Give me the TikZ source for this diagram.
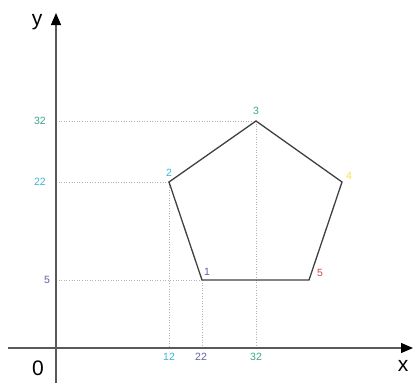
\documentclass[tikz,border=0pt]{standalone}
\usepackage{fontspec}
\setmainfont{Liberation Sans}
\usetikzlibrary{arrows.meta}
\definecolor{cgreen}{HTML}{3AA58A}
\definecolor{ccyan}{HTML}{3DB5D6}
\definecolor{cpurple}{HTML}{5F5FA0}
\definecolor{cyellow}{HTML}{F0E640}
\definecolor{cred}{HTML}{D04848}
\begin{document}
\begin{tikzpicture}[x=1pt,y=-1pt,
  axis/.style={draw=black!65,line width=1.2pt,-{Triangle[length=12pt,width=10pt,fill=black,color=black]}},
  guide/.style={draw=black!30,line width=0.6pt,dotted},
  edge/.style={draw=black!75,line width=1.3pt},
  small/.style={font=\fontsize{10.5}{12}\selectfont,inner sep=0pt},
  big/.style={font=\fontsize{21}{24}\selectfont,inner sep=0pt}]
\useasboundingbox (0,0) rectangle (414,383);
% vertices
\coordinate (v1) at (202,280);
\coordinate (v2) at (169,182);
\coordinate (v3) at (256,121);
\coordinate (v4) at (342,182);
\coordinate (v5) at (309,280);
% axis ends
\coordinate (yt) at (56,13);
\coordinate (yb) at (56,383);
\coordinate (xl) at (8,348);
\coordinate (xr) at (413,348);
\coordinate (h3) at (56,121);
\coordinate (h2) at (56,182);
\coordinate (h1) at (56,280);
\coordinate (f2) at (169,348);
\coordinate (f1) at (202,348);
\coordinate (f3) at (256,348);
% guides
\draw[guide] (h3) -- (v3);
\draw[guide] (h2) -- (v2);
\draw[guide] (h1) -- (v1);
\draw[guide] (v2) -- (f2);
\draw[guide] (v1) -- (f1);
\draw[guide] (v3) -- (f3);
% axes
\draw[axis] (yb) -- (yt);
\draw[axis] (xl) -- (xr);
% pentagon
\draw[edge,line join=miter] (v1) -- (v2) -- (v3) -- (v4) -- (v5) -- cycle;
% axis labels
\node[big] (ly) at (37,22) {y};
\node[big] (lx) at (403,366) {x};
\node[big] (l0) at (38,368) {0};
% tick labels
\node[small,text=cgreen] (t32y) at (40,121) {32};
\node[small,text=ccyan] (t22y) at (40,182) {22};
\node[small,text=cpurple] (t5y) at (47,280) {5};
\node[small,text=ccyan] (t12x) at (169,357) {12};
\node[small,text=cpurple] (t22x) at (201,357) {22};
\node[small,text=cgreen] (t32x) at (256,357) {32};
% vertex labels
\node[small,text=cpurple] (n1) at (207,272) {1};
\node[small,text=ccyan] (n2) at (169,173) {2};
\node[small,text=cgreen] (n3) at (256,111) {3};
\node[small,text=cyellow] (n4) at (349,176) {4};
\node[small,text=cred] (n5) at (320,273) {5};
\end{tikzpicture}
\end{document}
